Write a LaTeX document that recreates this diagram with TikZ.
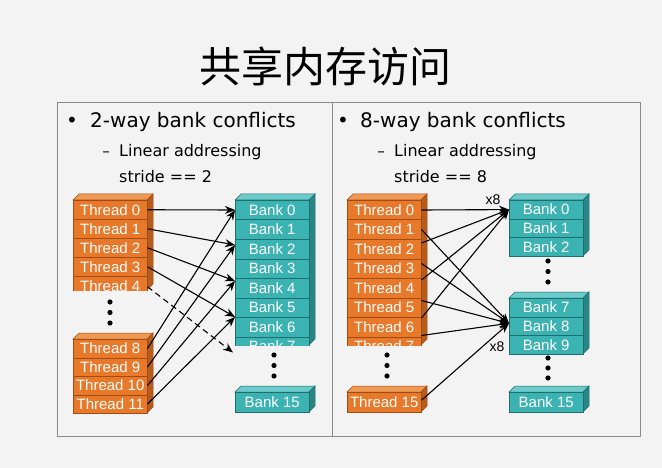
\documentclass[tikz,border=0pt]{standalone}
\usepackage{fontspec}
\setmainfont{DejaVu Sans}
\newfontfamily\cjk{Noto Sans CJK SC}
\newfontfamily\arialf{Liberation Sans}
\usetikzlibrary{calc,arrows.meta}
\definecolor{bg}{HTML}{F3F3F3}
\definecolor{frm}{HTML}{8A8A8A}
\definecolor{orF}{HTML}{E8782A}
\definecolor{orT}{HTML}{EE9A55}
\definecolor{orS}{HTML}{B85C1C}
\definecolor{orE}{HTML}{A04C12}
\definecolor{tlF}{HTML}{3BB3B3}
\definecolor{tlT}{HTML}{6CCACA}
\definecolor{tlS}{HTML}{2A8585}
\definecolor{tlE}{HTML}{1E6E6E}
\newcommand\cube[7]{%
  \filldraw[fill=#5,draw=#7,line width=.5pt] (#1,#3) -- (#1+6,#3-6) -- (#2+6,#3-6) -- (#2,#3) -- cycle;
  \filldraw[fill=#6,draw=#7,line width=.5pt] (#2,#3) -- (#2+6,#3-6) -- (#2+6,#4-6) -- (#2,#4) -- cycle;}
\tikzset{
  cell/.style={anchor=north west, minimum width=74pt, inner sep=0pt, line width=.5pt,
    text=white, font=\arialf\fontsize{15}{15}\selectfont},
  thr/.style={cell, fill=orF, draw=orE},
  bnk/.style={cell, fill=tlF, draw=tlE},
  arr/.style={-{Stealth[length=10pt,width=8pt]}, line width=1.1pt, black},
  dsh/.style={arr, dash pattern=on 6pt off 4pt},
  frame/.style={draw=frm, line width=1pt},
  dot/.style={fill=black, draw=none},
  head/.style={anchor=base west, font=\fontsize{20}{20}\selectfont, inner sep=0pt},
  sub/.style={anchor=base west, font=\fontsize{16}{16}\selectfont, inner sep=0pt},
  lbl/.style={font=\arialf\fontsize{14}{14}\selectfont, inner sep=0pt}
}
\begin{document}
\begin{tikzpicture}[x=1pt,y=-1pt]
\fill[bg] (0,0) rectangle (662,468);
\useasboundingbox (0,0) rectangle (662,468);
% title
\node[font=\cjk\fontsize{42}{42}\selectfont, inner sep=0pt] (title) at (325,66) {共享内存访问};
% frame
\draw[frame] (57,103) rectangle (640,436);
\draw[frame] (332,103) -- (332,436);
% headings
\node[anchor=base, font=\fontsize{20}{20}\selectfont, inner sep=0pt] (b1) at (72,127.5) {•};
\node[head] (h1) at (90,127.5) {2-way bank conflicts};
\node[anchor=base, font=\fontsize{15}{15}\selectfont, inner sep=0pt] (d1) at (106,156.5) {–};
\node[sub] (s1) at (119,156.5) {Linear addressing};
\node[sub] (t1) at (119,183) {stride == 2};
\node[anchor=base, font=\fontsize{20}{20}\selectfont, inner sep=0pt] (b2) at (343,127.5) {•};
\node[head] (h2) at (360,127.5) {8-way bank conflicts};
\node[anchor=base, font=\fontsize{15}{15}\selectfont, inner sep=0pt] (d2) at (381,156.5) {–};
\node[sub] (s2) at (394,156.5) {Linear addressing};
\node[sub] (t2) at (394,183) {stride == 8};

% ---------- left panel ----------
\cube{73}{147}{200}{290}{orT}{orS}{orE}
\begin{scope}
  \clip (60,150) rectangle (160,290);
  \foreach \i in {0,...,4}
    \node[thr, minimum height=19pt] (LT\i) at (73,200+19*\i) {Thread \i};
\end{scope}
\cube{73}{147}{339}{413}{orT}{orS}{orE}
\foreach \i/\n in {0/8,1/9,2/10,3/11}
  \node[thr, minimum height=18.5pt] (LT\n) at (73,339+18.5*\i) {Thread \n};
\foreach \y in {302,312.5,323} \fill[dot] (110,\y) circle (2.6);

\cube{235}{309}{200}{345}{tlT}{tlS}{tlE}
\begin{scope}
  \clip (220,150) rectangle (330,345);
  \foreach \i in {0,...,7}
    \node[bnk, minimum height=19.5pt] (LB\i) at (235,200+19.5*\i) {Bank \i};
\end{scope}
\cube{235}{309}{392}{412}{tlT}{tlS}{tlE}
\node[bnk, minimum height=20pt] (LB15) at (235,392) {Bank 15};
\foreach \y in {355,365.5,376} \fill[dot] (274,\y) circle (2.6);

\draw[arr] (LT0.east) -- (LB0.west);
\draw[arr] (LT1.east) -- ($(LB2.west)+(0,-4)$);
\draw[arr] (LT2.east) -- ($(LB4.west)+(0,-7)$);
\draw[arr] (LT3.east) -- ($(LB6.west)+(0,-10)$);
\draw[dsh] ($(LT4.east)+(0,1)$) -- ($(LB7.west)+(-2,6)$);
\draw[arr] (LT8.east) -- (LB0.west);
\draw[arr] (LT9.east) -- ($(LB2.west)+(0,-4)$);
\draw[arr] (LT10.east) -- ($(LB4.west)+(0,-7)$);
\draw[arr] (LT11.east) -- ($(LB6.west)+(0,-10)$);

% ---------- right panel ----------
\cube{347}{421}{200}{345}{orT}{orS}{orE}
\begin{scope}
  \clip (330,150) rectangle (440,345);
  \foreach \i in {0,...,7}
    \node[thr, minimum height=19.5pt] (RT\i) at (347,200+19.5*\i) {Thread \i};
\end{scope}
\cube{347}{421}{392}{412}{orT}{orS}{orE}
\node[thr, minimum height=20pt] (RT15) at (347,392) {Thread 15};
\foreach \y in {355,365.5,376} \fill[dot] (387,\y) circle (2.6);

\cube{509}{583}{200}{256.1}{tlT}{tlS}{tlE}
\foreach \i in {0,1,2}
  \node[bnk, minimum height=18.7pt] (RB\i) at (509,200+18.7*\i) {Bank \i};
\cube{509}{583}{298}{354.1}{tlT}{tlS}{tlE}
\foreach \i/\n in {0/7,1/8,2/9}
  \node[bnk, minimum height=18.7pt] (RB\n) at (509,298+18.7*\i) {Bank \n};
\cube{509}{583}{392}{412}{tlT}{tlS}{tlE}
\node[bnk, minimum height=20pt] (RB15) at (509,392) {Bank 15};
\foreach \y in {261,271.5,282} \fill[dot] (548,\y) circle (2.6);
\foreach \y in {358,368,378} \fill[dot] (548,\y) circle (2.6);

\draw[arr] (RT0.east) -- (RB0.west);
\draw[arr] ($(RT2.east)+(0,-6)$) -- (RB0.west);
\draw[arr] ($(RT4.east)+(0,-8)$) -- (RB0.west);
\draw[arr] ($(RT6.east)+(0,-9)$) -- (RB0.west);
\draw[arr] (RT1.east) -- ($(RB8.west)+(0,-3)$);
\draw[arr] ($(RT3.east)+(0,-5)$) -- ($(RB8.west)+(0,-3)$);
\draw[arr] ($(RT5.east)+(0,-7)$) -- ($(RB8.west)+(0,-3)$);
\draw[arr] ($(RT7.east)+(0,-11)$) -- ($(RB8.west)+(0,-3)$);
\draw[arr] ($(RT15.east)+(0,-2)$) -- ($(RB8.west)+(0,-3)$);
\node[lbl] (x8a) at (493,200) {x8};
\node[lbl] (x8b) at (497,347) {x8};
\end{tikzpicture}
\end{document}
